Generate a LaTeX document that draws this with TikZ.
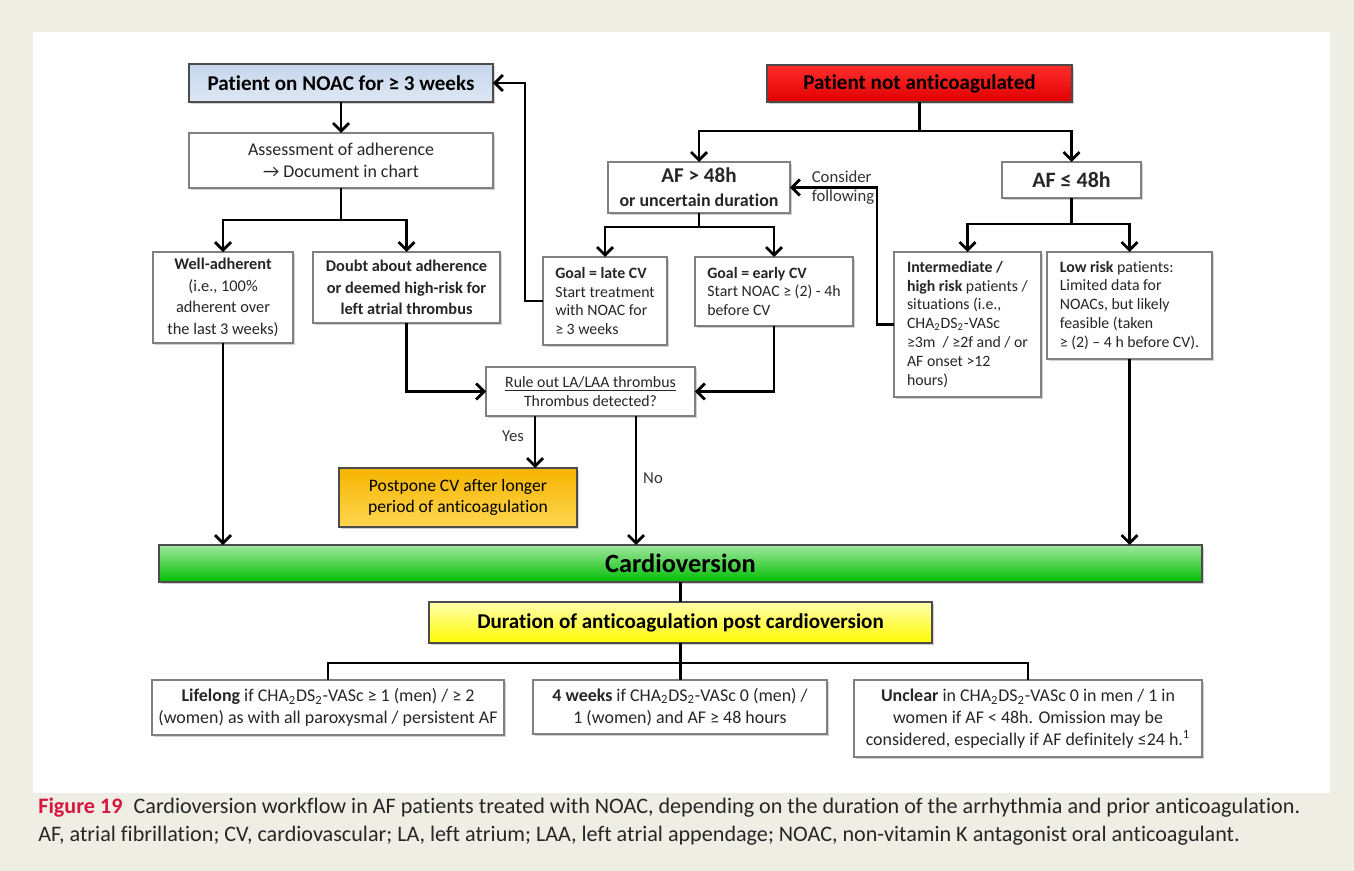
\documentclass[tikz,border=0pt]{standalone}
\usepackage{fontspec}
\setmainfont{Carlito}[Ligatures=NoCommon]
\usetikzlibrary{arrows.meta,shadows}

\definecolor{pagebg}{RGB}{239,238,228}
\definecolor{boxgray}{RGB}{128,128,128}
\definecolor{figred}{RGB}{214,24,64}

\tikzset{
  box/.style={draw=boxgray, line width=0.7pt, fill=white, inner sep=0pt, outer sep=0pt,
    align=center, text=black!85, font=\fontsize{10.2}{12.5}\selectfont,
    drop shadow={shadow xshift=1.1pt, shadow yshift=-1.1pt, fill=black, opacity=0.18}},
  lbox/.style={box, align=left, font=\fontsize{9}{10.8}\selectfont},
  cbox/.style={box, draw=black!70, text=black},
  conn/.style={line width=1.6pt},
  arr/.style={conn, -{Straight Barb[length=4.5pt,width=9pt]}},
  lbl/.style={inner sep=0pt, text=black!80, font=\fontsize{9.5}{10.8}\selectfont}
}

\begin{document}
\begin{tikzpicture}[x=0.02cm, y=-0.02cm]
\path[use as bounding box, fill=pagebg] (0,0) rectangle (1354,871);
\fill[white] (33,32) rectangle (1330,793); % figure panel

% left column
\node[cbox, top color={rgb,255:red,197;green,214;blue,236}, bottom color={rgb,255:red,222;green,231;blue,243},
  minimum width=6.08cm, minimum height=0.76cm, font=\fontsize{12}{14}\bfseries] (noac) at (341,83) {Patient on NOAC for ≥ 3 weeks};
\node[box, minimum width=6.08cm, minimum height=1.10cm] (assess) at (341,160.5) {Assessment of adherence\\→ Document in chart};
\node[box, minimum width=2.80cm, minimum height=1.82cm, font=\fontsize{9.3}{12.4}\selectfont] (welladh) at (223,297.5)
  {\textbf{Well-adherent}\\(i.e., 100\%\\adherent over\\the last 3 weeks)};
\node[box, minimum width=3.74cm, minimum height=1.42cm, font=\fontsize{9.3}{12.4}\bfseries] (doubt) at (406.5,287.5)
  {Doubt about adherence\\or deemed high-risk for\\left atrial thrombus};

% middle column
\node[box, minimum width=3.64cm, minimum height=1.02cm, font=\fontsize{10.2}{13.5}\bfseries] (af48) at (699,187.5)
  {{\fontsize{12}{13.5}\selectfont AF > 48h}\\or uncertain duration};
\node[lbox, minimum width=2.48cm, minimum height=1.76cm] (late) at (605,301)
  {\textbf{Goal = late CV}\\Start treatment\\with NOAC for\\≥ 3 weeks};
\node[lbox, minimum width=3.16cm, minimum height=1.38cm] (early) at (774,291.5)
  {\textbf{Goal = early CV}\\Start NOAC ≥ (2) - 4h\\before CV};
\node[box, minimum width=4.18cm, minimum height=0.98cm, font=\fontsize{9}{10.8}\selectfont] (ruleout) at (590.5,391.5)
  {\underline{Rule out LA/LAA thrombus}\\Thrombus detected?};
\node[cbox, top color={rgb,255:red,245;green,180;blue,0}, bottom color={rgb,255:red,255;green,214;blue,80},
  minimum width=4.76cm, minimum height=1.18cm, font=\fontsize{10}{11.8}\selectfont] (postpone) at (458,497.5)
  {Postpone CV after longer\\period of anticoagulation};

% right column
\node[cbox, top color={rgb,255:red,255;green,45;blue,45}, bottom color={rgb,255:red,225;green,0;blue,0},
  minimum width=6.10cm, minimum height=0.74cm, font=\fontsize{12}{14}\bfseries] (notac) at (919.5,83.5) {Patient not anticoagulated};
\node[box, minimum width=2.78cm, minimum height=0.72cm, font=\fontsize{12.5}{14}\bfseries] (afle) at (1071.5,180) {AF ≤ 48h};
\node[lbox, minimum width=2.94cm, minimum height=2.90cm] (inter) at (967.5,324.5)
  {\textbf{Intermediate /}\\\textbf{high risk} patients /\\situations (i.e.,\\CHA\textsubscript{2}DS\textsubscript{2}-VASc\\≥3m~ / ≥2f and / or\\AF onset >12\\hours)};
\node[lbox, minimum width=3.30cm, minimum height=2.14cm] (low) at (1129.5,305.5)
  {\textbf{Low risk} patients:\\Limited data for\\NOACs, but likely\\feasible (taken\\≥ (2) – 4 h before CV).};

% bottom part
\node[cbox, top color={rgb,255:red,160;green,232;blue,160}, bottom color={rgb,255:red,0;green,190;blue,0},
  minimum width=20.86cm, minimum height=0.74cm, font=\fontsize{15}{17}\bfseries] (cardio) at (680.5,563.5) {Cardioversion};
\node[cbox, top color={rgb,255:red,255;green,255;blue,175}, bottom color={rgb,255:red,255;green,250;blue,0},
  minimum width=10.06cm, minimum height=0.82cm, font=\fontsize{12}{14}\bfseries] (duration) at (680.5,622.5)
  {Duration of anticoagulation post cardioversion};
\node[box, minimum width=7.04cm, minimum height=1.10cm] (lifelong) at (328,707.5)
  {\textbf{Lifelong} if CHA\textsubscript{2}DS\textsubscript{2}-VASc ≥ 1 (men) / ≥ 2\\(women) as with all paroxysmal / persistent AF};
\node[box, minimum width=5.88cm, minimum height=1.08cm] (fourwk) at (680,707)
  {\textbf{4 weeks} if CHA\textsubscript{2}DS\textsubscript{2}-VASc 0 (men) /\\1 (women) and AF ≥ 48 hours};
\node[box, minimum width=6.96cm, minimum height=1.54cm] (unclear) at (1028,718.5)
  {\textbf{Unclear} in CHA\textsubscript{2}DS\textsubscript{2}-VASc 0 in men / 1 in\\women if AF < 48h. Omission may be\\considered, especially if AF definitely ≤24 h.\textsuperscript{1}};

% connectors
\coordinate (s1) at (341,220);
\coordinate (s2) at (919.5,131);
\coordinate (s3) at (699,227);
\coordinate (s4) at (1071.5,224);
\coordinate (s5) at (680.5,663);
\coordinate (yes) at (535,416);
\coordinate (no) at (636,416);
\draw[arr] (noac.south) -- (assess.north);
\draw[conn] (assess.south) -- (s1);
\draw[arr] (s1) -| (welladh.north);
\draw[arr] (s1) -| (doubt.north);
\draw[conn] (notac.south) -- (s2);
\draw[arr] (s2) -| (af48.north);
\draw[arr] (s2) -| (afle.north);
\draw[conn] (af48.south) -- (s3);
\draw[arr] (s3) -| (late.north);
\draw[arr] (s3) -| (early.north);
\draw[conn] (afle.south) -- (s4);
\draw[arr] (s4) -| (inter.north);
\draw[arr] (s4) -| (low.north);
\draw[arr] (late.west) -- ++(-18,0) |- (noac.east);
\draw[arr] (inter.west) -- ++(-17,0) |- (af48.east);
\node[lbl, align=left] (consider) at (843,187.5) {Consider\\following};
\draw[arr] (doubt.south) |- (ruleout.west);
\draw[arr] (early.south) |- (ruleout.east);
\draw[arr] (yes) -- (yes |- postpone.north);
\node[lbl] (yeslbl) at (513,436) {Yes};
\draw[arr] (no) -- (no |- cardio.north);
\node[lbl] (nolbl) at (653,478) {No};
\draw[arr] (welladh.south) -- (welladh.south |- cardio.north);
\draw[arr] (low.south) -- (low.south |- cardio.north);
\draw[conn] (cardio.south -| duration.north) -- (duration.north);
\draw[conn] (duration.south) -- (s5);
\draw[conn] (s5) -| (lifelong.north);
\draw[conn] (s5) -| (unclear.north);
\draw[conn] (s5) -- (s5 |- fourwk.north);

% caption
\node[anchor=west, align=left, inner sep=0pt, text=black!85, font=\fontsize{12.6}{16}\selectfont] (caption) at (38,822)
  {{\color{figred}\bfseries Figure 19}\enspace Cardioversion workflow in AF patients treated with NOAC, depending on the duration of the arrhythmia and prior anticoagulation.\\
   AF, atrial fibrillation; CV, cardiovascular; LA, left atrium; LAA, left atrial appendage; NOAC, non-vitamin K antagonist oral anticoagulant.};
\end{tikzpicture}
\end{document}
